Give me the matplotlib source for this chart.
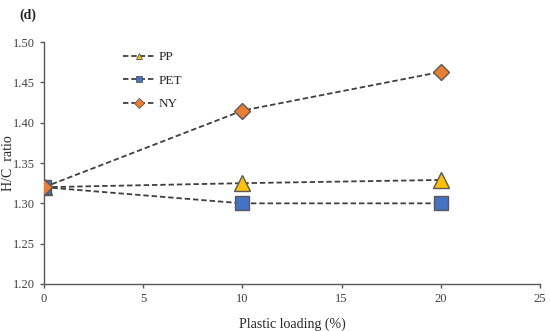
import matplotlib.pyplot as plt
from matplotlib.lines import Line2D

plt.rcParams['font.family'] = ['Liberation Serif', 'DejaVu Serif']

loading = [0, 10, 20]
pp = [1.320, 1.325, 1.329]
pet = [1.320, 1.300, 1.300]
ny = [1.320, 1.415, 1.463]

series = [
    ('PP', pp, '^', '#FFC000', 11),
    ('PET', pet, 's', '#4472C4', 10),
    ('NY', ny, 'D', '#ED7D31', 8.5),
]

line_color = '#404040'
edge_color = '#595959'

fig = plt.figure(figsize=(5.5, 3.31), dpi=100)
ax = fig.add_axes([0.08, 0.142, 0.902, 0.731])

# draw NY last so the diamond sits on top at x=0
handles = []
for name, vals, marker, color, ms in series:
    ax.plot(loading, vals, linestyle='--', dashes=(3, 1.6), color=line_color, linewidth=1.3,
            marker=marker, markersize=ms, markerfacecolor=color,
            markeredgecolor=edge_color, markeredgewidth=1.0, zorder=3)
    handles.append(Line2D([0], [0], linestyle='--', dashes=(3, 1.6), color=line_color,
                          linewidth=1.3, marker=marker, markersize=5,
                          markerfacecolor=color, markeredgecolor=edge_color,
                          markeredgewidth=0.6, label=name))

ax.set_xlim(0, 25)
ax.set_ylim(1.20, 1.50)
ax.set_xticks([0, 5, 10, 15, 20, 25])
ax.set_yticks([1.20, 1.25, 1.30, 1.35, 1.40, 1.45, 1.50])
ax.set_yticklabels(['%.2f' % v for v in ax.get_yticks()])

for s in ['top', 'right']:
    ax.spines[s].set_visible(False)
for s in ['left', 'bottom']:
    ax.spines[s].set_color('#595959')
    ax.spines[s].set_linewidth(1.0)
ax.tick_params(direction='out', length=3, width=1.0, color='#595959',
               labelsize=9, labelcolor='#404040')

ax.set_xlabel('Plastic loading (%)', fontsize=10, color='#262626', labelpad=9)
ax.set_ylabel('H/C  ratio', fontsize=10, color='#262626')
ax.yaxis.set_label_coords(-0.058, 0.5)

ax.legend(handles=handles, loc='upper left', bbox_to_anchor=(0.135, 1.012),
          frameon=False, fontsize=9.5, handlelength=2.4, handletextpad=0.3,
          labelspacing=0.85, labelcolor='#262626')

fig.text(0.035, 0.955, '(d)', fontsize=10, fontweight='bold', color='#262626',
         ha='left', va='center')

fig.savefig('out.png', dpi=100)
